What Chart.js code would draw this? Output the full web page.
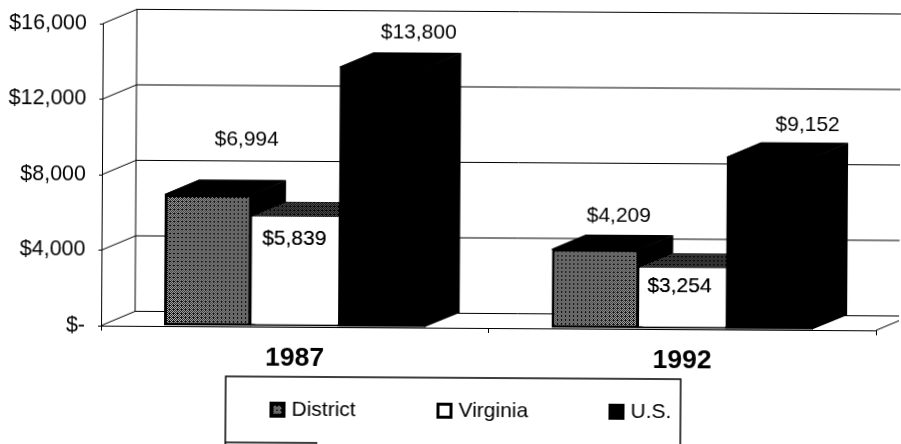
<!DOCTYPE html>
<html>
<head>
<meta charset="utf-8">
<title>1987 and 1992</title>
<script src="https://cdn.jsdelivr.net/npm/chart.js@4/dist/chart.umd.min.js"></script>
<style>
  html, body { margin: 0; padding: 0; background: #fff; overflow: hidden; }
  /* the source is a slightly crooked, soft scan */
  #chart {
    display: block;
    transform-origin: 0 0;
    transform: rotate(0.35deg);
    filter: blur(0.5px) brightness(0.8) contrast(1.7);
  }
</style>
</head>
<body>
<canvas id="chart" width="901" height="444"></canvas>
<script>
const categories = ['1987', '1992'];
const district = [6994, 4209];
const virginia = [5839, 3254];
const us = [13800, 9152];
const tickLabels = ['$-', '$4,000', '$8,000', '$12,000', '$16,000'];

const FONT = '"Liberation Sans", Arial, sans-serif';
const DEPTH_X = 34;
const DEPTH_Y = 14.5;
const INK = '#050505';

// dither fills, the scan has no flat greys
function dither(dark, light) {
  const c = document.createElement('canvas');
  c.width = c.height = 4;
  const p = c.getContext('2d');
  p.fillStyle = light;
  p.fillRect(0, 0, 4, 4);
  p.fillStyle = dark;
  [[0, 0], [2, 0], [1, 1], [3, 1], [0, 2], [2, 2], [1, 3], [3, 3], [3, 0]].forEach(d => p.fillRect(d[0], d[1], 1, 1));
  return p.createPattern(c, 'repeat');
}
const districtFill = dither('#4a4a4a', '#d0d0d0');
const districtTop = dither('#222222', '#8a8a8a');

// label offsets from the top centre of each bar, [dx, dy] per category
const labelOffsets = [
  [[38, -55], [23, -33]],
  [[-1, 22], [-3, 19]],
  [[35, -34], [37, -32]]
];

const topColors = [INK, districtTop, INK];

const wall3d = {
  id: 'wall3d',
  beforeDatasetsDraw(chart) {
    const { ctx, chartArea: a, scales: { y } } = chart;
    ctx.save();
    ctx.lineWidth = 1;
    ctx.strokeStyle = '#333';
    // back wall gridlines and their run down the side wall
    y.ticks.forEach(t => {
      const py = y.getPixelForValue(t.value);
      ctx.beginPath();
      ctx.moveTo(a.left, py);
      ctx.lineTo(a.left + DEPTH_X, py - DEPTH_Y);
      ctx.lineTo(a.right + DEPTH_X, py - DEPTH_Y);
      ctx.stroke();
    });
    // back wall edge
    ctx.beginPath();
    ctx.moveTo(a.left + DEPTH_X, a.top - DEPTH_Y);
    ctx.lineTo(a.left + DEPTH_X, a.bottom - DEPTH_Y);
    ctx.stroke();
    // floor front corner
    ctx.beginPath();
    ctx.moveTo(a.right, a.bottom);
    ctx.lineTo(a.right + DEPTH_X, a.bottom - DEPTH_Y);
    ctx.stroke();

    // side and top faces of the bars, run 1px under the front face to hide the seam
    chart.data.datasets.forEach((ds, i) => {
      chart.getDatasetMeta(i).data.forEach(bar => {
        const l = bar.x - bar.width / 2;
        const r = bar.x + bar.width / 2;
        ctx.fillStyle = INK;
        ctx.beginPath();
        ctx.moveTo(r - 1, bar.y);
        ctx.lineTo(r + DEPTH_X, bar.y - DEPTH_Y);
        ctx.lineTo(r + DEPTH_X, bar.base - DEPTH_Y);
        ctx.lineTo(r - 1, bar.base);
        ctx.closePath();
        ctx.fill();
        ctx.beginPath();
        ctx.moveTo(l, bar.y + 1);
        ctx.lineTo(l, bar.y);
        ctx.lineTo(l + DEPTH_X, bar.y - DEPTH_Y);
        ctx.lineTo(r + DEPTH_X, bar.y - DEPTH_Y);
        ctx.lineTo(r, bar.y);
        ctx.lineTo(r, bar.y + 1);
        ctx.closePath();
        ctx.fill();
        ctx.fillStyle = topColors[i];
        ctx.fill();
      });
    });
    ctx.restore();
  }
};

const valueLabels = {
  id: 'valueLabels',
  afterDatasetsDraw(chart) {
    const { ctx } = chart;
    ctx.save();
    ctx.font = '21px ' + FONT;
    ctx.fillStyle = INK;
    ctx.textAlign = 'center';
    ctx.textBaseline = 'middle';
    chart.data.datasets.forEach((ds, i) => {
      chart.getDatasetMeta(i).data.forEach((bar, j) => {
        const off = labelOffsets[i][j];
        ctx.fillText('$' + ds.data[j].toLocaleString('en-US'), bar.x + off[0], bar.y + off[1]);
      });
    });
    ctx.restore();
  }
};

// legend sits in a hand placed box, spacing is wider than the built in one allows
const boxLegend = {
  id: 'boxLegend',
  afterDraw(chart) {
    const { ctx } = chart;
    const swatchX = [272, 439, 611];
    ctx.save();
    ctx.strokeStyle = INK;
    ctx.lineWidth = 1.5;
    ctx.beginPath();
    ctx.moveTo(228, 444);
    ctx.lineTo(228, 375);
    ctx.lineTo(683, 375);
    ctx.lineTo(683, 444);
    ctx.moveTo(228, 441);
    ctx.lineTo(320, 441);
    ctx.stroke();
    ctx.font = '21px ' + FONT;
    ctx.textBaseline = 'middle';
    chart.data.datasets.forEach((ds, i) => {
      const x = swatchX[i];
      ctx.fillStyle = INK;
      ctx.fillRect(x, 400, 16, 16);
      if (i === 0) {
        ctx.fillStyle = districtFill;
        ctx.fillRect(x + 4, 404, 8, 8);
      } else if (i === 1) {
        ctx.fillStyle = '#fff';
        ctx.fillRect(x + 3, 403, 10, 10);
      }
      ctx.fillStyle = INK;
      ctx.fillText(ds.label, x + 22, 408);
    });
    ctx.restore();
  }
};

new Chart(document.getElementById('chart'), {
  type: 'bar',
  data: {
    labels: categories,
    datasets: [
      { label: 'District', data: district, backgroundColor: districtFill, borderColor: INK, borderWidth: 3, borderSkipped: false },
      { label: 'Virginia', data: virginia, backgroundColor: '#fff', borderColor: INK, borderWidth: { bottom: 2 }, borderSkipped: false },
      { label: 'U.S.', data: us, backgroundColor: INK }
    ]
  },
  options: {
    responsive: false,
    animation: false,
    layout: { padding: { top: 23, right: 23, bottom: 0, left: 0 } },
    categoryPercentage: 0.675,
    barPercentage: 1,
    plugins: {
      legend: { display: false },
      tooltip: { enabled: false }
    },
    scales: {
      x: {
        afterFit: s => { s.height = 119; s.paddingLeft = 0; s.paddingRight = 0; },
        grid: { drawOnChartArea: false, color: INK, tickLength: 5 },
        border: { color: INK },
        ticks: { color: INK, padding: 11, font: { family: FONT, size: 26.5, weight: 'bold' } }
      },
      y: {
        min: 0,
        max: 16000,
        afterFit: s => { s.width = 103; s.paddingTop = 0; s.paddingBottom = 0; },
        grid: { drawOnChartArea: false, color: INK, tickLength: 3 },
        border: { color: INK },
        ticks: {
          stepSize: 4000,
          color: INK,
          padding: 13,
          font: { family: FONT, size: 21.5 },
          callback: (v, i) => tickLabels[i]
        }
      }
    }
  },
  plugins: [wall3d, valueLabels, boxLegend]
});
</script>
</body>
</html>
